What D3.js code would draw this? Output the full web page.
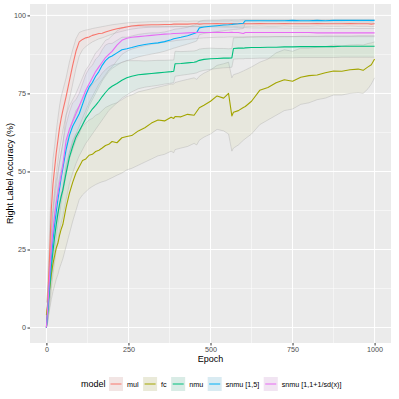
<!DOCTYPE html>
<html>
<head>
<meta charset="utf-8">
<script src="https://cdn.jsdelivr.net/npm/d3@7"></script>
<style>
  html, body { margin: 0; padding: 0; background: #fff; }
  svg text { font-family: "Liberation Sans", Arial, sans-serif; }
</style>
</head>
<body>
<div id="chart"></div>
<script>
// epochs sampled from the curves
const epochs = [0,5,10,15,20,25,30,35,40,45,
  50,60,70,80,90,100,110,120,130,140,
  150,160,170,180,190,200,215,230,245,260,
  280,300,320,340,360,380,388,392,410,430,
  450,458,466,480,500,520,540,555,565,570,
  585,600,606,625,650,675,700,725,750,775,
  800,825,850,875,900,925,950,965,980,990,
  1000];

const modelNames = ["mul", "fc", "nmu", "snmu [1,5]", "snmu [1,1+1/sd(x)]"];
const modelColors = ["#F8766D", "#A3A500", "#00BF7D", "#00B0F6", "#E76BF3"];

const mulMean = [0,11,24,38,46,51,56,60,64,67,
  69.5,74,79,84,88.5,91.5,92.3,92.8,93.1,93.6,
  93.9,94.2,94.3,94.7,95.0,95.3,95.7,96.0,96.3,96.6,
  96.8,96.9,97.0,97.0,97.1,97.1,97.2,97.2,97.2,97.2,
  97.3,97.3,97.2,97.3,97.3,97.4,97.3,97.3,97.4,97.3,
  97.3,97.4,97.3,97.3,97.4,97.3,97.3,97.4,97.3,97.3,
  97.3,97.4,97.3,97.3,97.3,97.4,97.3,97.3,97.3,97.2,
  97.3];
const mulLo = [0,5,16,30,38,44,49,53,57,60,
  63,68,73,78,83,87,89,90,90.8,91.5,
  92,92.5,92.8,93.2,93.6,94,94.5,94.9,95.3,95.6,
  95.9,96.1,96.2,96.2,96.3,96.3,96.3,96.4,96.4,96.4,
  96.5,96.5,96.4,96.5,96.5,96.6,96.5,96.5,96.6,96.5,
  96.5,96.6,96.5,96.5,96.6,96.5,96.5,96.6,96.5,96.5,
  96.5,96.6,96.5,96.5,96.5,96.6,96.5,96.5,96.5,96.4,
  96.5];
const mulHi = [0,17,32,46,54,58,63,67,71,74,
  76,80,85,89,92.5,94.5,95,95.3,95.5,95.8,
  96,96.2,96.4,96.6,96.8,97,97.2,97.4,97.6,97.7,
  97.8,97.9,98,98,98.1,98.1,98.1,98.1,98.2,98.1,
  98.2,98.2,98.1,98.2,98.2,98.2,98.2,98.2,98.3,98.2,
  98.2,98.3,98.2,98.2,98.3,98.2,98.2,98.3,98.2,98.2,
  98.2,98.3,98.2,98.2,98.2,98.3,98.2,98.2,98.2,98.1,
  98.2];

const fcMean = [4,8,12.5,17,20.5,23,25.5,27,29.5,31.5,
  33,38.5,43,46.5,49.5,51.5,53.5,54,55.2,55.5,
  56.4,56.8,57.5,58.3,58.7,59.6,59.2,60.8,61.2,61.5,
  63,64,65.5,66.5,66.2,67.4,67,67.6,67.5,68.3,
  68,69.2,70.4,71.2,72.5,74.2,73.5,75,67.8,69,
  69.5,70.5,70.8,72.5,76,76.9,78.4,79.4,78.9,80.2,
  80.7,80.9,81.6,82.2,82.1,82.6,82.8,82.4,83.5,84.2,
  86];
const fcLo = [0,3,6,9,11.5,13.5,15.5,17,19,20.5,
  22,26,30,34,37.5,41,42.5,43.5,44.5,45.2,
  45.8,46.3,46.7,47,47.5,48,48.8,49.5,50.5,51,
  52,53,54,55,55.5,56.5,56,57,57.5,58,
  59,58.5,60,61,62,63.5,63,62,56.5,57.5,
  58.5,60,60.5,62,65,66.5,68,69.5,70,71.5,
  72,73,73.5,74.5,74.5,75,75.2,75,76.5,78,
  80];
const fcHi = [8,13,19,25,29.5,32.5,35.5,37,40,42.5,
  44,51,56,60,62,63,64.5,65.5,66.5,67,
  68,68.5,69.5,70.5,71,71.5,72,73,74,74.5,
  75.5,76,76.5,77,77.5,78,78,78.5,79,79.5,
  80,79.5,80.5,81.5,82.5,84,84.5,85,80,81,
  81.5,82.2,82.5,83.5,85,86,88,89,88.5,89.5,
  89.5,89.8,90,90.5,90.2,90.5,90.6,90.5,91,91.2,
  91.5];

const nmuMean = [0,6,13,19.5,24.5,29,33,36.5,39.5,42,
  44,49.5,54.5,58,61,63,65,67,68.5,70,
  71.2,72.5,74,75.3,76.5,77.3,78.2,79.2,80,80.5,
  81,81.2,81.4,81.6,81.8,82,82.1,84.5,84.6,84.8,
  85,85.2,85.6,85.9,86.1,86.2,86.3,86.3,86.4,89.4,
  89.5,89.5,89.6,89.7,89.7,89.8,89.8,89.9,89.9,90,
  90,90,90,90,90.1,90.1,90.1,90.1,90.1,90.1,
  90.1];
const nmuLo = [0,2,7,12.5,17,21,25,28,31,33.5,
  35.5,41,46,49.5,52.5,55,57,59,60.5,62,
  63.5,65,66.5,68,69.5,70.5,72,73.5,74.5,75.5,
  76.5,77,77.3,77.6,78,78.3,78.5,80.5,80.8,81.1,
  81.4,81.6,82,82.4,82.7,83,83.2,83.3,83.4,86,
  86.1,86.1,86.2,86.2,86.3,86.3,86.4,86.4,86.4,86.5,
  86.5,86.5,86.5,86.5,86.6,86.6,86.6,86.6,86.6,86.6,
  86.6];
const nmuHi = [0,10,19,26.5,32,37,41,45,48,50.5,
  52.5,58,63,66.5,69.5,71,73,75,76.5,78,
  79,80,81.5,82.6,83.5,84.1,84.4,84.9,85.5,85.5,
  85.5,85.4,85.5,85.6,85.6,85.7,85.7,88.5,88.4,88.5,
  88.6,88.8,89.2,89.4,89.5,89.4,89.4,89.3,89.4,92.8,
  92.9,92.9,93,93,93.1,93.1,93.2,93.2,93.2,93.3,
  93.3,93.3,93.4,93.4,93.4,93.4,93.5,93.5,93.5,93.5,
  93.5];

const snmu15Mean = [0,7,15,22,28,33,37,41,44.5,48,
  51,57,61.5,64.5,66.5,68.5,71.5,74.5,77,78.5,
  80.5,82,84,85.5,86.5,87,88,89,89.3,89.7,
  90.3,90.7,91,91.2,91.6,92.2,92.5,92.6,93,93.5,
  94.2,94.5,96,96.3,96.5,96.7,96.9,97,97.1,97.2,
  97.3,97.5,98.3,98.3,98.3,98.3,98.3,98.3,98.4,98.3,
  98.3,98.4,98.3,98.4,98.4,98.4,98.4,98.4,98.4,98.4,
  98.4];
const snmu15Lo = [0,3,9,15,20,25,29,33,36,40,
  43,49,54,57,60,62,65,68,71,73,
  75,77,79,80.5,82,83,84,85,85.5,86,
  86.7,87.2,87.6,88,88.5,89.2,89.5,89.6,90.2,90.8,
  91.5,91.8,93.8,94.2,94.5,94.8,95.1,95.3,95.4,95.5,
  95.6,95.8,97.3,97.3,97.4,97.4,97.4,97.4,97.5,97.4,
  97.4,97.5,97.4,97.5,97.5,97.5,97.5,97.5,97.5,97.5,
  97.5];
const snmu15Hi = [0,11,21,29,36,41,45,49,53,56,
  59,65,69,72,73,75,78,81,83,84,
  86,87,89,90.5,91,91,92,93,93,93.4,
  93.9,94.2,94.4,94.4,94.7,95.2,95.5,95.6,95.8,96.2,
  96.9,97.2,98.2,98.4,98.5,98.5,98.6,98.6,98.6,98.6,
  98.6,98.7,98.7,98.7,98.7,98.7,98.7,98.7,98.7,98.7,
  98.7,98.7,98.7,98.7,98.7,98.7,98.7,98.7,98.7,98.7,
  98.7];

const snmuSdMean = [0,8,17,25,31,36,40,43,46,49,
  52,60,63.5,66,68.5,71,73.5,76,78,80,
  82,83.5,85,86.5,87.5,88.5,90.5,92,92.7,93,
  93.2,93.4,93.6,93.8,94,94.1,94.2,94.2,94.3,94.4,
  94.5,94.5,94.6,94.5,94.5,94.6,94.5,94.5,94.6,94.5,
  94.5,94.2,94.5,94.5,94.5,94.5,94.5,94.5,94.5,94.5,
  94.5,94.4,94.4,94.4,94.4,94.4,94.4,94.4,94.4,94.4,
  94.4];
const snmuSdLo = [0,4,11,18,24,29,33,36,39,42,
  45,52,56,59,62,64.5,67,69.5,72,74,
  76,78,79.5,81,82.5,83.5,85.5,87.5,88.5,89.2,
  89.8,90.3,90.7,91.1,91.4,91.7,91.8,91.9,92.1,92.3,
  92.5,92.6,92.7,92.8,92.9,93,93,93.1,93.1,93.1,
  93.1,93.1,93.1,93.2,93.2,93.2,93.2,93.2,93.2,93.2,
  93.2,93.2,93.2,93.2,93.2,93.2,93.2,93.2,93.2,93.2,
  93.2];
const snmuSdHi = [0,12,23,32,38,43,47,50,53,56,
  59,68,71,73,75,77.5,80,82.5,84,86,
  88,89,90.5,92,92.5,93.5,95,96,96.5,96.6,
  96.6,96.5,96.5,96.5,96.5,96.5,96.5,96.5,96.4,96.4,
  96.4,96.4,96.4,96.3,96.3,96.3,96.2,96.2,96.2,96.2,
  96.1,96.1,96.1,96.0,96.0,96.0,96.0,95.9,95.9,95.9,
  95.9,95.9,95.8,95.8,95.8,95.8,95.8,95.8,95.8,95.8,
  95.8];

const xTicks = [0, 250, 500, 750, 1000];
const yTicks = [0, 25, 50, 75, 100];

// build one record per model
const series = [
  [mulMean, mulLo, mulHi],
  [fcMean, fcLo, fcHi],
  [nmuMean, nmuLo, nmuHi],
  [snmu15Mean, snmu15Lo, snmu15Hi],
  [snmuSdMean, snmuSdLo, snmuSdHi],
].map(([m, lo, hi], i) => ({
  name: modelNames[i],
  color: modelColors[i],
  values: epochs.map((e, j) => ({ epoch: e, mean: m[j], lo: lo[j], hi: hi[j] })),
}));

const width = 399;
const height = 399;
const panel = { left: 30, right: 391, top: 4, bottom: 343 };

const svg = d3.select("#chart")
  .append("svg")
  .attr("width", width)
  .attr("height", height);

svg.append("rect")
  .attr("width", width).attr("height", height)
  .attr("fill", "#fff");

const x = d3.scaleLinear().domain([-50, 1050]).range([panel.left, panel.right]);
const y = d3.scaleLinear().domain([-4.95, 103.65]).range([panel.bottom, panel.top]);

// panel background + grid
svg.append("rect")
  .attr("x", panel.left).attr("y", panel.top)
  .attr("width", panel.right - panel.left)
  .attr("height", panel.bottom - panel.top)
  .attr("fill", "#EBEBEB");

const grid = svg.append("g");
const minorX = [125, 375, 625, 875];
const minorY = [12.5, 37.5, 62.5, 87.5];
grid.selectAll(".mx").data(minorX).enter().append("line")
  .attr("x1", d => x(d)).attr("x2", d => x(d))
  .attr("y1", panel.top).attr("y2", panel.bottom)
  .attr("stroke", "#fff").attr("stroke-width", 0.5);
grid.selectAll(".my").data(minorY).enter().append("line")
  .attr("y1", d => y(d)).attr("y2", d => y(d))
  .attr("x1", panel.left).attr("x2", panel.right)
  .attr("stroke", "#fff").attr("stroke-width", 0.5);
grid.selectAll(".Mx").data(xTicks).enter().append("line")
  .attr("x1", d => x(d)).attr("x2", d => x(d))
  .attr("y1", panel.top).attr("y2", panel.bottom)
  .attr("stroke", "#fff").attr("stroke-width", 1);
grid.selectAll(".My").data(yTicks).enter().append("line")
  .attr("y1", d => y(d)).attr("y2", d => y(d))
  .attr("x1", panel.left).attr("x2", panel.right)
  .attr("stroke", "#fff").attr("stroke-width", 1);

// ribbons
const area = d3.area()
  .x(d => x(d.epoch))
  .y0(d => y(d.lo))
  .y1(d => y(d.hi));
const loLine = d3.line().x(d => x(d.epoch)).y(d => y(d.lo));
const hiLine = d3.line().x(d => x(d.epoch)).y(d => y(d.hi));
const meanLine = d3.line().x(d => x(d.epoch)).y(d => y(d.mean));

const plot = svg.append("g");
series.forEach(s => {
  plot.append("path").attr("d", area(s.values))
    .attr("fill", s.color).attr("fill-opacity", 0.06);
  [loLine, hiLine].forEach(fn => {
    plot.append("path").attr("d", fn(s.values))
      .attr("fill", "none")
      .attr("stroke", "#a8a8a8")
      .attr("stroke-opacity", 0.6)
      .attr("stroke-width", 0.6);
  });
});
series.forEach(s => {
  plot.append("path").attr("d", meanLine(s.values))
    .attr("fill", "none")
    .attr("stroke", s.color)
    .attr("stroke-width", 1.1)
    .attr("stroke-linejoin", "round");
});

// axes
const xAxis = svg.append("g")
  .attr("transform", `translate(0,${panel.bottom})`)
  .call(d3.axisBottom(x).tickValues(xTicks).tickFormat(d3.format("d")).tickSize(2.5).tickPadding(1.5));
const yAxis = svg.append("g")
  .attr("transform", `translate(${panel.left},0)`)
  .call(d3.axisLeft(y).tickValues(yTicks).tickFormat(d3.format("d")).tickSize(2.5).tickPadding(1.5));
[xAxis, yAxis].forEach(a => {
  a.select(".domain").remove();
  a.selectAll(".tick line").attr("stroke", "#333");
  a.selectAll(".tick text")
    .attr("fill", "#4D4D4D")
    .style("font-size", "7.2px")
    .style("font-family", "Liberation Sans, Arial, sans-serif");
});

// axis titles
svg.append("text")
  .attr("x", (panel.left + panel.right) / 2)
  .attr("y", 362)
  .attr("text-anchor", "middle")
  .attr("fill", "#000")
  .style("font-size", "9px")
  .text("Epoch");

svg.append("text")
  .attr("transform", `translate(13,${(panel.top + panel.bottom) / 2}) rotate(-90)`)
  .attr("text-anchor", "middle")
  .attr("fill", "#000")
  .style("font-size", "9px")
  .text("Right Label Accuracy (%)");

// legend
const legend = svg.append("g");
const legendY = 384;
legend.append("text")
  .attr("x", 81).attr("y", legendY + 3.2)
  .style("font-size", "9px")
  .attr("fill", "#000")
  .text("model");

let lx = 109;
series.forEach(s => {
  const g = legend.append("g");
  g.append("rect")
    .attr("x", lx).attr("y", legendY - 7)
    .attr("width", 14).attr("height", 14)
    .attr("fill", "#F2F2F2");
  g.append("rect")
    .attr("x", lx).attr("y", legendY - 7)
    .attr("width", 14).attr("height", 14)
    .attr("fill", s.color).attr("fill-opacity", 0.1);
  g.append("line")
    .attr("x1", lx + 1.5).attr("x2", lx + 12.5)
    .attr("y1", legendY).attr("y2", legendY)
    .attr("stroke", s.color).attr("stroke-width", 1);
  const t = g.append("text")
    .attr("x", lx + 18).attr("y", legendY + 2.6)
    .style("font-size", "7.2px")
    .attr("fill", "#000")
    .text(s.name);
  lx = lx + 18 + t.node().getComputedTextLength() + 4.5;
});
</script>
</body>
</html>
